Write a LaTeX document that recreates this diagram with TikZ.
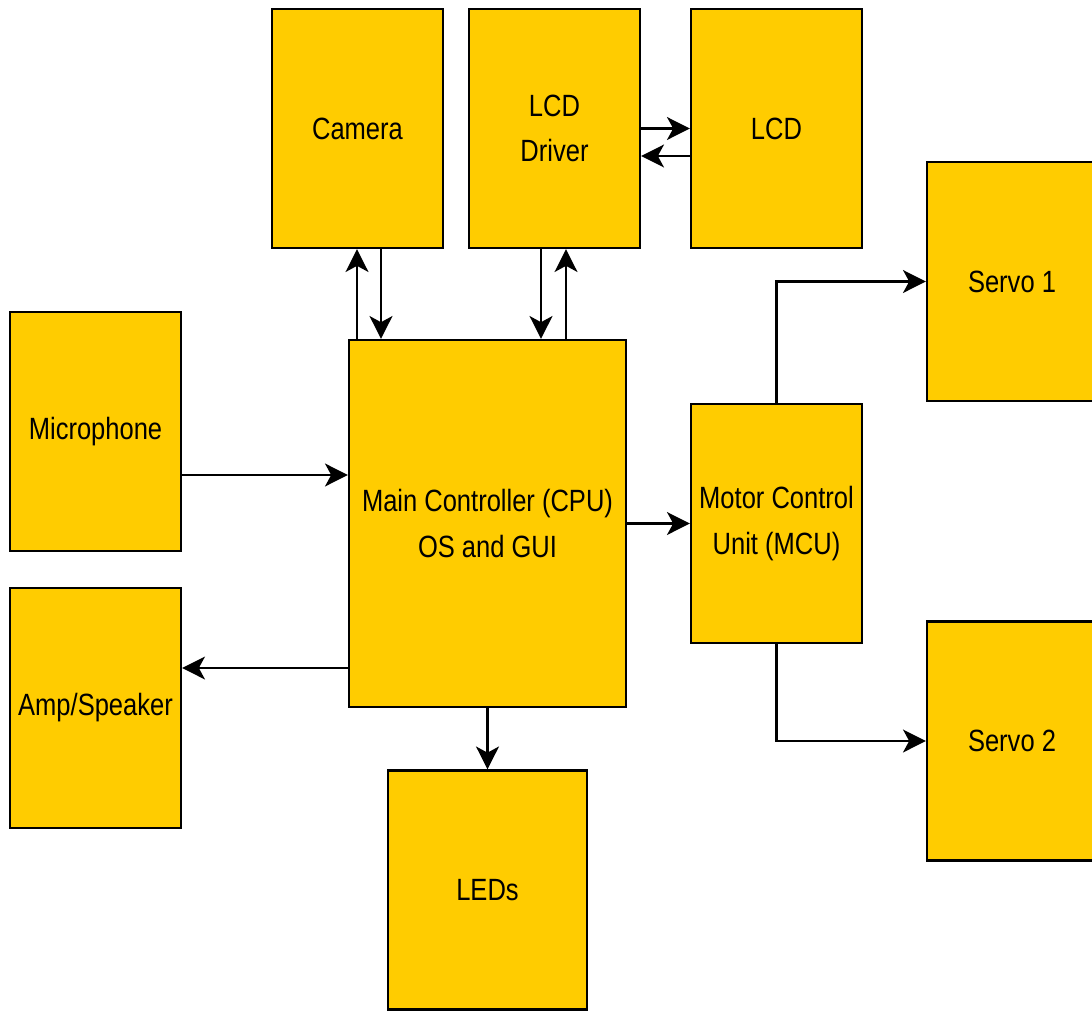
\documentclass[tikz,border=0pt]{standalone}
\usepackage{fontspec}
\setmainfont{Liberation Sans}[FakeStretch=0.83]
\usepackage{xcolor}
\usepackage{tikz}
\usetikzlibrary{arrows.meta, positioning, calc}
\definecolor{boxyellow}{HTML}{FFCC00}
\tikzset{
  unit/.style={draw=black, line width=1.3pt, fill=boxyellow, align=center,
    minimum width=3.42cm, minimum height=4.78cm, inner sep=0pt,
    font=\fontsize{17.5}{26}\selectfont},
  link/.style={line width=1.3pt, -{Stealth[length=13pt, width=13pt, inset=3.5pt]}}
}
\begin{document}
\begin{tikzpicture}[x=0.02cm, y=-0.02cm]
\useasboundingbox (0,0) rectangle (1092,1011);
% Top row
\node[unit] (camera) at (357.5,128.5) {Camera};
\node[unit] (driver) at (554.5,128.5) {LCD\\Driver};
\node[unit] (lcd) at (776.5,128.5) {LCD};
% Left column
\node[unit] (mic) at (95.5,431.5) {Microphone};
\node[unit, minimum height=4.8cm] (amp) at (95.5,708) {Amp/Speaker};
% Centre
\node[unit, minimum width=5.54cm, minimum height=7.34cm] (main) at (487.5,523.5) {Main Controller (CPU)\\OS and GUI};
\node[unit] (mcu) at (776.5,523.5) {Motor Control\\Unit (MCU)};
\node[unit, minimum width=3.98cm] (leds) at (487.5,890) {LEDs};
% Servos (cut by the right edge)
\node[unit, minimum width=3.4cm] (servoA) at (1012,281.5) {Servo 1};
\node[unit, minimum width=3.4cm] (servoB) at (1012,741) {Servo 2};
% Camera <-> main
\draw[link] ([xshift=-0.01cm]camera.south |- main.north) -- ([xshift=-0.01cm]camera.south);
\draw[link] ([xshift=0.47cm]camera.south) -- ([xshift=0.47cm]camera.south |- main.north);
% Driver <-> main
\draw[link] ([xshift=-0.27cm]driver.south) -- ([xshift=-0.27cm]driver.south |- main.north);
\draw[link] ([xshift=0.23cm]driver.south |- main.north) -- ([xshift=0.23cm]driver.south);
% Driver <-> LCD
\draw[link] (driver.east) -- (lcd.west);
\draw[link] ([yshift=-0.55cm]lcd.west) -- ([yshift=-0.55cm]lcd.west -| driver.east);
% Audio
\draw[link] ([yshift=-0.87cm]mic.east) -- ([yshift=-0.87cm]mic.east -| main.west);
\draw[link] ([yshift=0.8cm]amp.east -| main.west) -- ([yshift=0.8cm]amp.east);
% Main to MCU and LEDs
\draw[link] (main.east) -- (mcu.west);
\draw[link] (main.south) -- (leds.north);
% MCU to servos
\draw[link] (mcu.north) |- (servoA.west);
\draw[link] (mcu.south) |- (servoB.west);
\end{tikzpicture}
\end{document}
